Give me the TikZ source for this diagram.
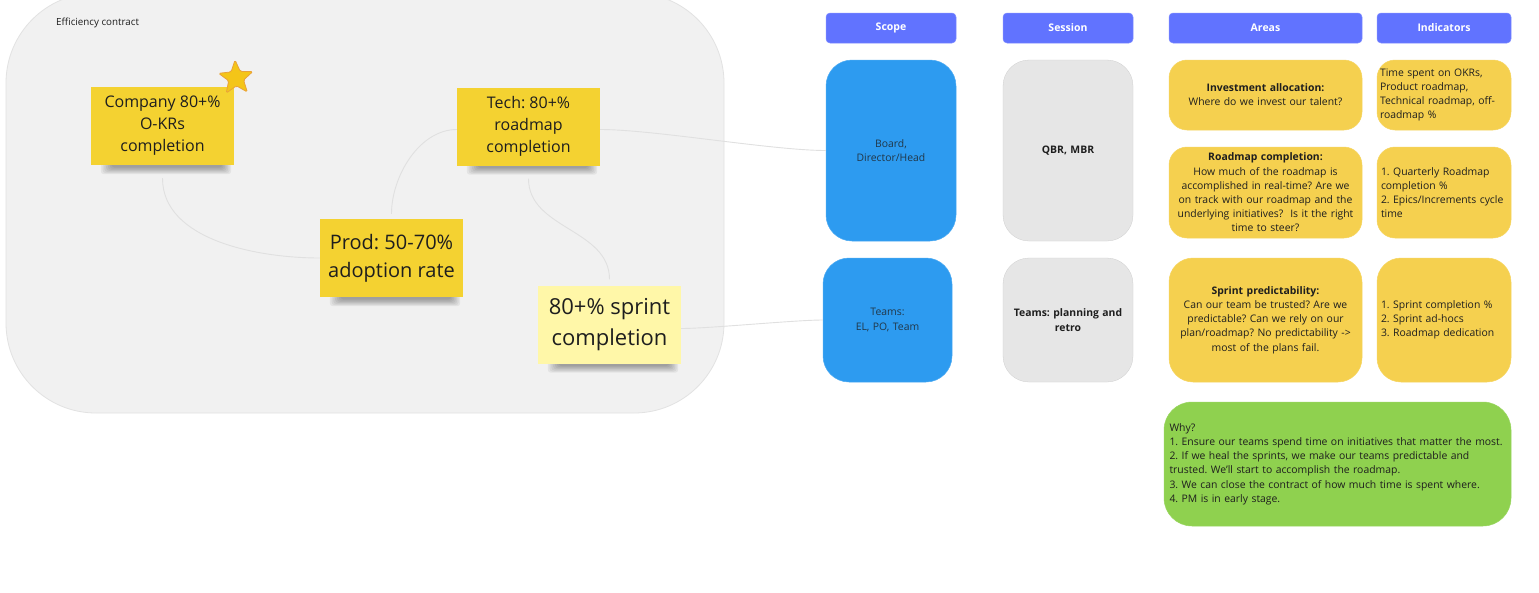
\documentclass[tikz,border=0pt]{standalone}
\usepackage{fontspec}
\setmainfont{Open Sans}
\usetikzlibrary{shapes.geometric}
\frenchspacing
\definecolor{panelfill}{HTML}{F1F1F1}
\definecolor{panelline}{HTML}{E2E2E2}
\definecolor{stickyY}{HTML}{F4D231}
\definecolor{stickyL}{HTML}{FFF7A8}
\definecolor{hdrblue}{HTML}{6173FF}
\definecolor{boxblue}{HTML}{2D9BF0}
\definecolor{boxgrey}{HTML}{E6E6E6}
\definecolor{boxyellow}{HTML}{F5D04F}
\definecolor{boxgreen}{HTML}{8FD14F}
\definecolor{inkc}{HTML}{1E1E1E}
\definecolor{linkc}{HTML}{E0E0E0}
\definecolor{starfill}{HTML}{F4C518}
\definecolor{starline}{HTML}{E9A23B}
\newcommand\stickyshadow[1]{%
  \foreach \i in {0,...,6}{%
    \fill[black,opacity=0.055,rounded corners=3pt] ([xshift={10pt+\i*1.8pt},yshift=2pt]#1.south west) rectangle ([xshift={-3pt-\i*1.5pt},yshift={-9pt+\i*1.1pt}]#1.south east);
  }%
}
\begin{document}
\begin{tikzpicture}[x=1pt,y=-1pt,
  panel/.style={fill=panelfill,draw=panelline,line width=0.8pt,rounded corners=90pt,inner sep=0pt},
  sticky/.style={inner sep=0pt,minimum width=143pt,minimum height=78pt,text=inkc,align=center},
  hdr/.style={fill=hdrblue,draw=hdrblue!80!white,line width=0.5pt,rounded corners=4pt,minimum height=30pt,inner sep=0pt,text=white,font=\fontsize{10.5}{12}\selectfont\bfseries},
  card/.style={rounded corners=22pt,inner sep=4pt,text=inkc,font=\fontsize{10.4}{14.2}\selectfont},
  bluecard/.style={card,fill=boxblue,draw=boxblue!85!white,line width=0.5pt,text=inkc!80!boxblue,align=center,text width=120pt},
  greycard/.style={card,fill=boxgrey,draw=boxgrey!90!black,line width=0.3pt,align=center,text width=122pt,font=\fontsize{10.4}{14.2}\selectfont\bfseries},
  ycard/.style={card,fill=boxyellow,draw=boxyellow!90!white,line width=0.5pt,rounded corners=18pt},
  link/.style={draw=linkc,line width=0.9pt}
]
\useasboundingbox (0,0) rectangle (1539,592);
\fill[white] (0,0) rectangle (1539,592);

% panel
\node[panel,minimum width=718pt,minimum height=420pt] (panel) at (365,203) {};
\node[anchor=west,font=\fontsize{9.8}{11}\selectfont,text=inkc,inner sep=0pt] (ptitle) at (56,23) {Efficiency contract};

% sticky positions (placeholders for shadows)
\path (162.5,126) coordinate (compc) (528.5,126.5) coordinate (techc) (391.5,258) coordinate (prodc) (609.5,324.5) coordinate (sprintc);
\node[sticky] (compS) at (compc) {};
\node[sticky] (techS) at (techc) {};
\node[sticky] (prodS) at (prodc) {};
\node[sticky] (sprintS) at (sprintc) {};
\stickyshadow{compS}
\stickyshadow{techS}
\stickyshadow{prodS}
\stickyshadow{sprintS}

% stickies
\node[sticky,fill=stickyY,font=\fontsize{16}{22}\selectfont] (comp) at (compc) {Company 80+\%\\O-KRs\\completion};
\node[sticky,fill=stickyY,font=\fontsize{16}{22}\selectfont] (tech) at (techc) {Tech: 80+\%\\roadmap\\completion};
\node[sticky,fill=stickyY,font=\fontsize{20}{28}\selectfont] (prod) at (prodc) {Prod: 50-70\%\\adoption rate};
\node[sticky,fill=stickyL,font=\fontsize{22}{31}\selectfont] (sprint) at (sprintc) {80+\% sprint\\completion};

\node[star,star points=5,star point ratio=2.3,fill=starfill,draw=starline,line width=0.8pt,minimum size=36pt,inner sep=0pt,rounded corners=1.5pt,rotate=3] (star) at (236,78) {};

% headers
\node[hdr,minimum width=130pt] (hscope) at (891,28) {Scope};
\node[hdr,minimum width=130pt] (hsession) at (1068,28) {Session};
\node[hdr,minimum width=193pt] (hareas) at (1265.5,28) {Areas};
\node[hdr,minimum width=134pt] (hind) at (1444,28) {Indicators};

% scope column
\node[bluecard,minimum width=130pt,minimum height=181pt,rounded corners=26pt] (board) at (891,150.5) {Board,\\Director/Head};
\node[bluecard,minimum width=129pt,minimum height=124pt,rounded corners=26pt] (teams) at (887.5,320) {Teams:\\EL, PO, Team};

% session column
\node[greycard,minimum width=130pt,minimum height=181pt,rounded corners=26pt] (qbr) at (1068,150.5) {QBR, MBR};
\node[greycard,minimum width=130pt,minimum height=124pt,rounded corners=26pt] (plan) at (1068,320) {Teams: planning and\\retro};

% areas column
\node[ycard,minimum width=193pt,minimum height=70pt,align=center,text width=187pt,inner sep=3pt] (inv) at (1265.5,95) {\textbf{Investment allocation:}\\Where do we invest our talent?};
\node[ycard,minimum width=193pt,minimum height=91pt,align=center,text width=187pt,inner sep=3pt] (road) at (1265.5,192.5) {\textbf{Roadmap completion:}\\How much of the roadmap is\\accomplished in real-time? Are we\\on track with our roadmap and the\\underlying initiatives?\ \ Is it the right\\time to steer?};
\node[ycard,minimum width=193pt,minimum height=124pt,align=center,text width=187pt,inner sep=3pt,rounded corners=24pt] (spr) at (1265.5,320) {\textbf{Sprint predictability:}\\Can our team be trusted? Are we\\predictable? Can we rely on our\\plan/roadmap? No predictability ->\\most of the plans fail.};

% indicators column
\node[ycard,minimum width=134pt,minimum height=70pt,align=left,text width=128pt,inner sep=3pt] (ind1) at (1444,95) {Time spent on OKRs,\\Product roadmap,\\Technical roadmap, off-\\roadmap \%};
\node[ycard,minimum width=134pt,minimum height=91pt,align=left,text width=126pt,inner sep=4pt] (ind2) at (1444,192.5) {1. Quarterly Roadmap\\completion \%\\2. Epics/Increments cycle\\time};
\node[ycard,minimum width=134pt,minimum height=124pt,align=left,text width=126pt,rounded corners=24pt] (ind3) at (1444,320) {1. Sprint completion \%\\2. Sprint ad-hocs\\3. Roadmap dedication};

% why
\node[card,fill=boxgreen,draw=boxgreen!90!white,line width=0.5pt,minimum width=347pt,minimum height=124pt,rounded corners=28pt,align=left,text width=336pt,inner xsep=5.5pt,inner ysep=4pt] (why) at (1337.5,464) {Why?\\1. Ensure our teams spend time on initiatives that matter the most.\\2. If we heal the sprints, we make our teams predictable and\\trusted. We'll start to accomplish the roadmap.\\3. We can close the contract of how much time is spent where.\\4. PM is in early stage.};

% connectors
\path[link] ([yshift=-13pt]comp.south) to[out=-90,in=180,looseness=0.9] (prod.west);
\path[link] ([yshift=5pt]prod.north) to[out=90,in=180,looseness=0.9] ([yshift=-3pt]tech.west);
\path[link] ([yshift=-13pt]tech.south) to[out=-90,in=90,looseness=1.0] ([yshift=6pt]sprint.north);
\path[link] ([yshift=-3pt]tech.east) to[out=0,in=180,looseness=0.6] (board.west);
\path[link] ([yshift=-4pt]sprint.east) to[out=0,in=180,looseness=0.5] (teams.west);
\end{tikzpicture}
\end{document}
